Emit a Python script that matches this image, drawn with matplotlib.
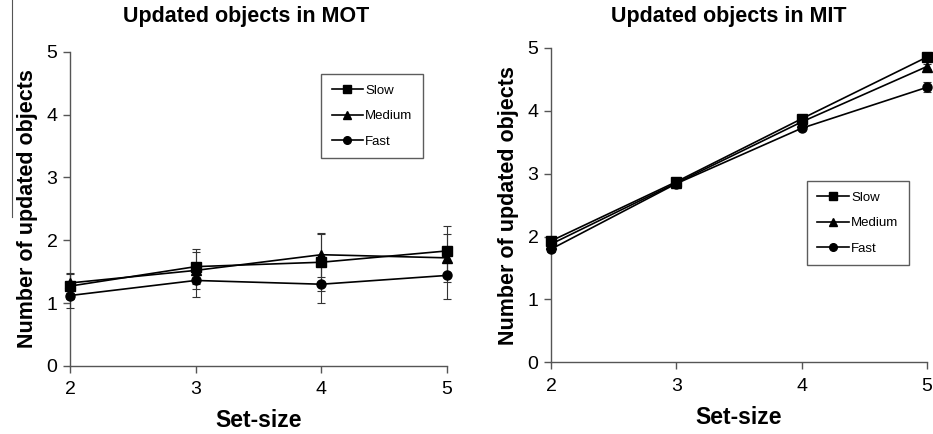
import matplotlib.pyplot as plt
from matplotlib.lines import Line2D

plt.rcParams['font.family'] = ['Liberation Sans', 'DejaVu Sans']

set_size = [2, 3, 4, 5]
labels = ['Slow', 'Medium', 'Fast']
markers = ['s', '^', 'o']

# MOT panel
mot_slow = [1.27, 1.58, 1.65, 1.83]
mot_medium = [1.32, 1.52, 1.77, 1.72]
mot_fast = [1.12, 1.36, 1.30, 1.44]
mot_slow_err = [0.20, 0.28, 0.45, 0.40]
mot_medium_err = [0.16, 0.30, 0.35, 0.38]
mot_fast_err = [0.20, 0.26, 0.30, 0.37]

# MIT panel
mit_slow = [1.93, 2.87, 3.87, 4.85]
mit_medium = [1.88, 2.85, 3.82, 4.70]
mit_fast = [1.80, 2.84, 3.72, 4.37]
mit_slow_err = [0.04, 0.03, 0.03, 0.03]
mit_medium_err = [0.04, 0.03, 0.03, 0.04]
mit_fast_err = [0.04, 0.04, 0.03, 0.08]

fig = plt.figure(figsize=(9.33, 4.34), dpi=100)
ax1 = fig.add_axes([0.075, 0.157, 0.404, 0.7235])
ax2 = fig.add_axes([0.5906, 0.165, 0.4027, 0.725])


def draw_panel(ax, series, errs, title, title_x, leg_anchor):
    for vals, err, lab, m in zip(series, errs, labels, markers):
        ax.errorbar(set_size, vals, yerr=err, color='black', lw=1.2,
                    marker=m, markersize=6.5 if m != '^' else 7,
                    ecolor='#333333', elinewidth=0.8, capsize=3,
                    capthick=0.8, label=lab, clip_on=False, zorder=3)
    ax.set_xlim(2, 5)
    ax.set_ylim(0, 5)
    ax.set_xticks(set_size)
    ax.set_yticks([0, 1, 2, 3, 4, 5])
    for s in ['top', 'right']:
        ax.spines[s].set_visible(False)
    for s in ['left', 'bottom']:
        ax.spines[s].set_color('#555555')
        ax.spines[s].set_linewidth(1.0)
    ax.tick_params(axis='both', direction='out', length=5, width=1,
                   color='#555555', labelsize=14, pad=4)
    ax.tick_params(axis='x', pad=6)
    ax.set_xlabel('Set-size', fontsize=16.5, fontweight='bold', labelpad=8)
    ax.set_ylabel('Number of updated objects', fontsize=15.5,
                  fontweight='bold', labelpad=6)
    fig.text(title_x, 0.963, title, fontsize=15.5, fontweight='bold',
             ha='center', va='center')
    handles = [Line2D([], [], color='black', lw=1.2, marker=m,
                      markersize=5.5) for m in markers]
    leg = ax.legend(handles, labels, loc='upper left',
                    bbox_to_anchor=leg_anchor, fontsize=9.5,
                    frameon=True, fancybox=False, labelspacing=1.0,
                    handlelength=2.4, handletextpad=0.15,
                    borderpad=0.8, borderaxespad=0)
    leg.get_frame().set_edgecolor('#333333')
    leg.get_frame().set_linewidth(1.0)


draw_panel(ax1, [mot_slow, mot_medium, mot_fast],
           [mot_slow_err, mot_medium_err, mot_fast_err],
           'Updated objects in MOT', 246.5 / 933, (0.666, 0.929))
draw_panel(ax2, [mit_slow, mit_medium, mit_fast],
           [mit_slow_err, mit_medium_err, mit_fast_err],
           'Updated objects in MIT', 729 / 933, (0.681, 0.576))

# thin stray vertical rule at the far left of the scan
fig.add_artist(Line2D([12 / 933, 12 / 933], [1.0, 1 - 217 / 434],
                      transform=fig.transFigure, color='#555555', lw=0.8))

fig.savefig('out.png', dpi=100)
